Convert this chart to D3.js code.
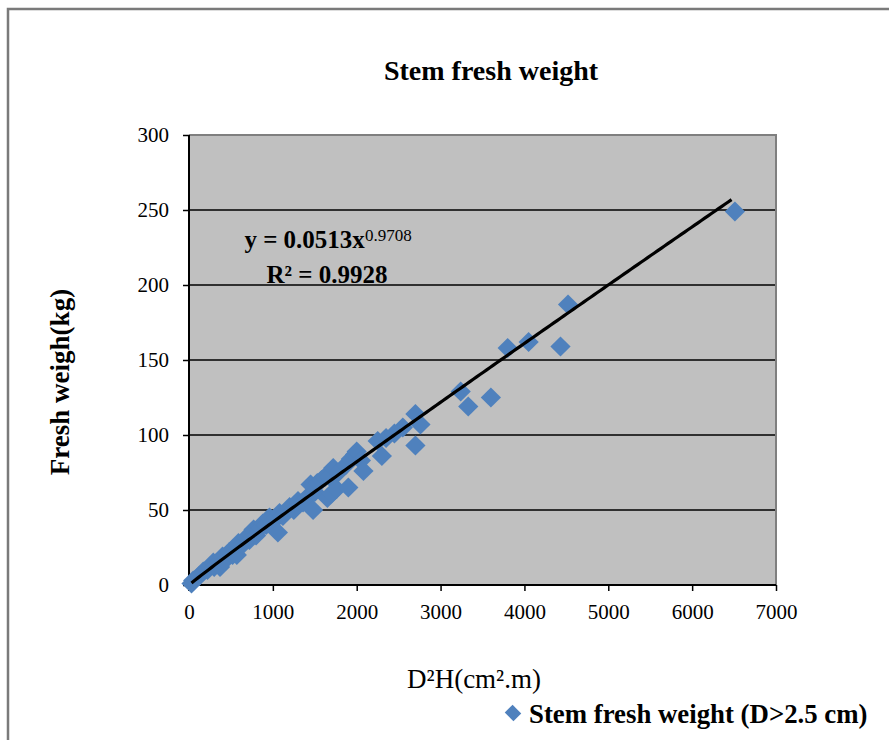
<!DOCTYPE html>
<html lang="en">
<head>
    <meta charset="UTF-8">
    <title>Stem fresh weight</title>
    <script src="https://d3js.org/d3.v7.min.js"></script>
    <style>
        body {
            margin: 0;
            background: #ffffff;
            font-family: 'Liberation Serif', 'Times New Roman', serif;
        }
        #chart svg { display: block; }
        .grid line { stroke: #000; stroke-width: 1.3px; }
        .axis line { stroke: #000; stroke-width: 1.5px; }
        .axis text { font-family: 'Liberation Serif', serif; font-size: 21px; fill: #000; }
    </style>
</head>
<body>
    <div id="chart"></div>

    <script>
        // measured points: D2H (cm2.m) vs stem fresh weight (kg)
        const d2h = [30, 50, 120, 170, 220, 290, 300, 370, 400, 420, 480, 520, 570, 590, 640, 690,
                     720, 770, 800, 850, 880, 920, 960, 1000, 1060, 1080, 1120, 1200, 1250, 1300, 1360,
                     1400, 1450, 1480, 1500, 1530, 1580, 1620, 1650, 1680, 1700, 1720, 1760, 1780, 1870,
                     1900, 1930, 1980, 2000, 2050, 2080, 2250, 2300, 2350, 2450, 2550, 2700, 2700, 2760,
                     3240, 3330, 3600, 3800, 4050, 4430, 4520, 6510];
        const freshWeight = [1, 3, 6, 9, 10, 15, 12, 12, 19, 16, 22, 20, 20, 28, 27, 32,
                     30, 37, 33, 38, 41, 40, 45, 42, 35, 48, 46, 52, 50, 56, 55,
                     58, 67, 50, 62, 68, 70, 72, 58, 72, 61, 78, 64, 75, 80,
                     65, 84, 87, 89, 83, 76, 96, 86, 98, 101, 105, 114, 93, 107,
                     129, 119, 125, 158, 162, 159, 187, 249];

        // power trendline shown on the chart
        const trendA = 0.0513;
        const trendB = 0.9708;
        const trendFrom = 30, trendTo = 6500;

        const xTicks = [0, 1000, 2000, 3000, 4000, 5000, 6000, 7000];
        const yTicks = [0, 50, 100, 150, 200, 250, 300];

        const width = 889, height = 740;
        const plot = { left: 189, right: 776, top: 135, bottom: 585 };

        const svg = d3.select("#chart").append("svg")
            .attr("width", width)
            .attr("height", height);

        // outer chart frame (only top and left edges fall inside the picture)
        svg.append("path")
            .attr("d", `M8,${height} L8,9 L${width},9`)
            .attr("fill", "none")
            .attr("stroke", "#7a7a7a")
            .attr("stroke-width", 2.5);

        const x = d3.scaleLinear().domain([0, 7000]).range([plot.left, plot.right]);
        const y = d3.scaleLinear().domain([0, 300]).range([plot.bottom, plot.top]);

        // plot area
        svg.append("rect")
            .attr("x", plot.left).attr("y", plot.top)
            .attr("width", plot.right - plot.left)
            .attr("height", plot.bottom - plot.top)
            .attr("fill", "#c0c0c0");

        svg.append("g").attr("class", "grid")
            .selectAll("line")
            .data(yTicks.filter(d => d > 0 && d < 300))
            .enter().append("line")
            .attr("x1", plot.left).attr("x2", plot.right)
            .attr("y1", d => y(d)).attr("y2", d => y(d));

        // grey border on top and right
        svg.append("path")
            .attr("d", `M${plot.left},${plot.top} L${plot.right},${plot.top} L${plot.right},${plot.bottom}`)
            .attr("fill", "none")
            .attr("stroke", "#7f7f7f")
            .attr("stroke-width", 2);

        svg.append("g").attr("class", "axis")
            .attr("transform", `translate(0,${plot.bottom})`)
            .call(d3.axisBottom(x).tickValues(xTicks).tickSize(6).tickPadding(13).tickFormat(d3.format("d")))
            .call(g => g.select(".domain").remove());

        svg.append("g").attr("class", "axis")
            .attr("transform", `translate(${plot.left},0)`)
            .call(d3.axisLeft(y).tickValues(yTicks).tickSize(6).tickPadding(14).tickFormat(d3.format("d")))
            .call(g => g.select(".domain").remove());

        // axis lines
        svg.append("line").attr("x1", plot.left).attr("x2", plot.left)
            .attr("y1", plot.top).attr("y2", plot.bottom + 6)
            .attr("stroke", "#000").attr("stroke-width", 2);
        svg.append("line").attr("x1", plot.left - 6).attr("x2", plot.right)
            .attr("y1", plot.bottom).attr("y2", plot.bottom)
            .attr("stroke", "#000").attr("stroke-width", 2);

        // points
        const points = d2h.map((v, i) => ({ x: v, y: freshWeight[i] }));
        const diamond = d3.symbol().type(d3.symbolSquare).size(205);
        svg.append("g")
            .selectAll("path")
            .data(points)
            .enter().append("path")
            .attr("d", diamond)
            .attr("transform", d => `translate(${x(d.x)},${y(d.y)}) rotate(45)`)
            .attr("fill", "#4f81bd");

        // trendline
        const trendX = d3.range(trendFrom, trendTo + 1, 40);
        const line = d3.line()
            .x(d => x(d))
            .y(d => y(trendA * Math.pow(d, trendB)));
        svg.append("path")
            .datum(trendX)
            .attr("d", line)
            .attr("fill", "none")
            .attr("stroke", "#000")
            .attr("stroke-width", 3.2);

        // equation
        const eq = svg.append("text")
            .attr("x", 328).attr("y", 248)
            .attr("text-anchor", "middle")
            .style("font-family", "'Liberation Serif', serif")
            .style("font-weight", "bold")
            .style("font-size", "25px");
        eq.append("tspan").text("y = 0.0513x");
        eq.append("tspan").attr("dy", -7).style("font-size", "17px").style("font-weight", "normal").text(trendB.toFixed(4));
        svg.append("text")
            .attr("x", 327).attr("y", 283)
            .attr("text-anchor", "middle")
            .style("font-family", "'Liberation Serif', serif")
            .style("font-weight", "bold")
            .style("font-size", "25px")
            .text("R² = 0.9928");

        // title
        svg.append("text")
            .attr("x", 491).attr("y", 80)
            .attr("text-anchor", "middle")
            .style("font-family", "'Liberation Serif', serif")
            .style("font-weight", "bold")
            .style("font-size", "28px")
            .text("Stem fresh weight");

        // axis titles
        svg.append("text")
            .attr("transform", "translate(69,382) rotate(-90)")
            .attr("text-anchor", "middle")
            .style("font-family", "'Liberation Serif', serif")
            .style("font-weight", "bold")
            .style("font-size", "27px")
            .text("Fresh weigh(kg)");

        svg.append("text")
            .attr("x", 474).attr("y", 688)
            .attr("text-anchor", "middle")
            .style("font-family", "'Liberation Serif', serif")
            .style("font-size", "27px")
            .text("D²H(cm².m)");

        // legend
        svg.append("path")
            .attr("d", d3.symbol().type(d3.symbolSquare).size(150))
            .attr("transform", "translate(513,713) rotate(45) scale(1,0.9)")
            .attr("fill", "#4f81bd");
        svg.append("text")
            .attr("x", 529).attr("y", 723)
            .style("font-family", "'Liberation Serif', serif")
            .style("font-weight", "bold")
            .style("font-size", "26.8px")
            .text("Stem fresh weight (D>2.5 cm)");
    </script>
</body>
</html>
